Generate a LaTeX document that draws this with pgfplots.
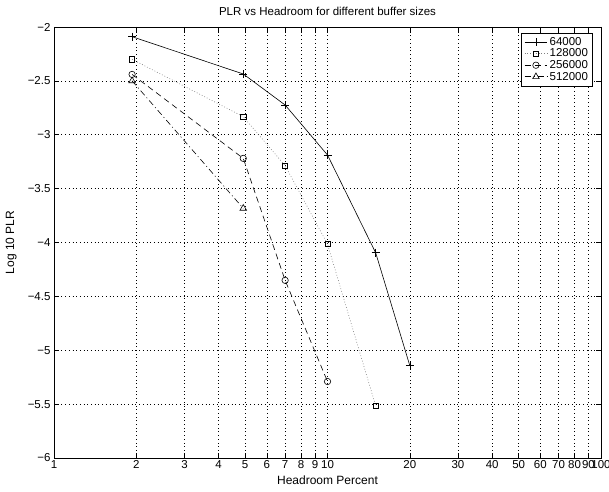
\documentclass[border=0pt]{standalone}
\usepackage{fontspec}
\setmainfont{Liberation Sans}
\usepackage{pgfplots}
\pgfplotsset{compat=1.18}
\begin{document}
\begin{tikzpicture}
\begin{axis}[
  scale only axis, width=547pt, height=431pt,
  xmode=log, xmin=1, xmax=100, ymin=-6, ymax=-2,
  xtick={1,2,3,4,5,6,7,8,9,10,20,30,40,50,60,70,80,90,100},
  xticklabels={1,2,3,4,5,6,7,8,9,10,20,30,40,50,60,70,80,90,100},
  minor xtick={},
  ytick={-6,-5.5,-5,-4.5,-4,-3.5,-3,-2.5,-2},
  yticklabels={−6,−5.5,−5,−4.5,−4,−3.5,−3,−2.5,−2},
  tick align=inside, major tick length=5pt,
  tick style={black, line width=0.6pt},
  xtick pos=both, ytick pos=both,
  grid=major, major grid style={black, line width=0.6pt, dash pattern=on 0.7pt off 3pt},
  axis line style={black, line width=0.8pt},
  tick label style={font=\fontsize{11.5}{13}\selectfont},
  xticklabel style={yshift=1pt},
  title={PLR vs Headroom for different buffer sizes},
  title style={font=\fontsize{11.5}{13}\selectfont, at={(0.5,1)}, anchor=south, yshift=2pt},
  xlabel={Headroom Percent},
  xlabel style={font=\fontsize{12}{14}\selectfont, at={(axis description cs:0.5,-0.033)}, anchor=north},
  ylabel={Log 10 PLR},
  ylabel style={font=\fontsize{12}{14}\selectfont, at={(axis description cs:-0.062,0.5)}, anchor=south},
  legend style={at={(rel axis cs:0.985,0.987)}, anchor=north east, draw=black, line width=0.6pt, fill=white,
    font=\fontsize{11.5}{13}\selectfont, cells={anchor=west}, row sep=-2pt, inner sep=2.5pt},
  legend image code/.code={\draw[mark repeat=2,mark phase=2] plot coordinates {(0cm,0cm) (0.4cm,0cm) (0.8cm,0cm)};},
  every axis plot/.append style={black, line width=0.6pt},
]
\addplot[solid, mark=+, mark size=4pt, mark options={solid}] coordinates {
  (1.93,-2.09) (4.92,-2.436) (7,-2.724) (10,-3.188) (15,-4.095) (20,-5.143)};
\addlegendentry{64000}
\addplot[gray, dash pattern=on 0.8pt off 2pt, mark=square, mark size=2.6pt, mark options={solid, black}] coordinates {
  (1.93,-2.30) (4.92,-2.832) (7,-3.287) (10,-4.014) (15,-5.515)};
\addlegendentry{128000}
\addplot[dash pattern=on 6pt off 4pt, mark=o, mark size=3.2pt, mark options={solid}] coordinates {
  (1.93,-2.44) (4.92,-3.219) (7,-4.351) (10,-5.29)};
\addlegendentry{256000}
\addplot[dash pattern=on 6pt off 3pt on 1pt off 3pt, mark=triangle, mark size=3.8pt, mark options={solid}] coordinates {
  (1.93,-2.50) (4.92,-3.683)};
\addlegendentry{512000}
\coordinate (sw) at (rel axis cs:0,0);
\end{axis}
\pgfresetboundingbox
\path (sw) ++(-54pt,-33pt) rectangle ++(609pt,491pt);
\end{tikzpicture}
\end{document}
